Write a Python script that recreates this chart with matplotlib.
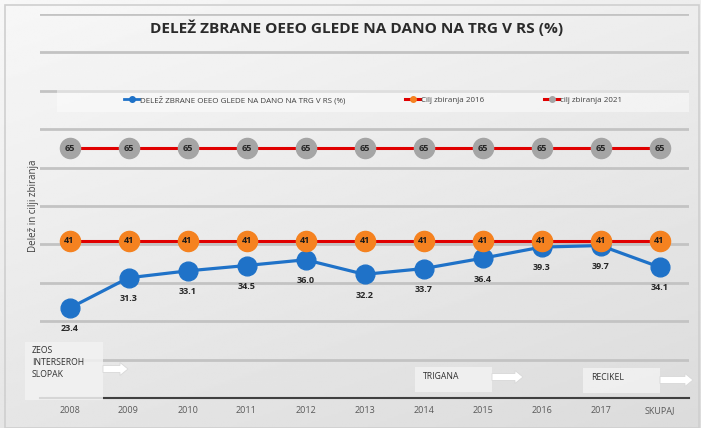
import matplotlib
matplotlib.use("Agg")
import matplotlib.pyplot as plt
import numpy as np
from matplotlib.patches import Rectangle, FancyArrow
from matplotlib.lines import Line2D

categories = ["2008", "2009", "2010", "2011", "2012", "2013", "2014", "2015", "2016", "2017", "SKUPAJ"]
delez = [23.4, 31.3, 33.1, 34.5, 36.0, 32.2, 33.7, 36.4, 39.3, 39.7, 34.1]
cilj_2016 = [41] * 11
cilj_2021 = [65] * 11

title = "DELEŽ ZBRANE OEEO GLEDE NA DANO NA TRG V RS (%)"
series_names = ["DELEŽ ZBRANE OEEO GLEDE NA DANO NA TRG V RS (%)", "Cilj zbiranja 2016", "cilj zbiranja 2021"]
ylabel = "Delež in cilji zbiranja"
box_texts = ["ZEOS\nINTERSEROH\nSLOPAK", "TRIGANA", "RECIKEL"]

W, H = 701, 428
fig = plt.figure(figsize=(W / 100, H / 100), dpi=100)
plt.rcParams['font.family'] = ['Open Sans', 'DejaVu Sans']

# background gradient
bg = fig.add_axes([0, 0, 1, 1], zorder=-10)
yy, xx = np.mgrid[0:1:200j, 0:1:300j]
grad = 0.97 - 0.07 * (1 - yy) - 0.04 * xx
bg.imshow(grad, cmap='gray', vmin=0, vmax=1, aspect='auto', origin='lower', extent=[0, 1, 0, 1])
bg.axis('off')
bg.add_patch(Rectangle((5 / W, 0), (W - 7) / W, (H - 5) / H, transform=bg.transAxes,
                       fill=False, edgecolor='#cfcfcf', lw=1.2))


def px2fig(x, y):
    return x / W, 1 - y / H


left, right = 40, 689
top, bottom = 14, 398
ax = fig.add_axes([left / W, 1 - bottom / H, (right - left) / W, (bottom - top) / H])
ax.set_facecolor('none')
x = np.arange(len(categories))
ax.set_xlim(-0.5, len(categories) - 0.5)
ax.set_ylim(0, 100)
ax.set_yticks(np.arange(0, 101, 10))
ax.yaxis.grid(True, color='#c3c3c3', lw=2)
ax.tick_params(axis='y', length=0, labelleft=False)
for s in ['left', 'right', 'top']:
    ax.spines[s].set_visible(False)
ax.spines['bottom'].set_color('#404040')
ax.spines['bottom'].set_linewidth(1.5)
ax.set_axisbelow(True)
ax.set_xticks(x)
ax.set_xticklabels(categories, fontsize=6.5, color='#595959')
ax.tick_params(axis='x', length=0, pad=6)
ax.set_ylabel(ylabel, fontsize=7, color='#404040', labelpad=1)

ax.plot(x, delez, color='#1f72c8', lw=2.3, marker='o', ms=13.5, zorder=3)
ax.plot(x, cilj_2021, color='#e00000', lw=2.2, zorder=4)
ax.plot(x, cilj_2021, ls='none', marker='o', ms=14.5, color='#a5a5a5', zorder=5)
ax.plot(x, cilj_2016, color='#e00000', lw=2.2, zorder=4)
ax.plot(x, cilj_2016, ls='none', marker='o', ms=14.5, color='#f58220', zorder=5)

for xi, v in zip(x, cilj_2021):
    ax.text(xi, v, f"{v}", ha='center', va='center', fontsize=6.5, fontweight='bold', color='#262626', zorder=6)
for xi, v in zip(x, cilj_2016):
    ax.text(xi, v, f"{v}", ha='center', va='center', fontsize=6.5, fontweight='bold', color='#1a1a1a', zorder=6)
for xi, v in zip(x, delez):
    ax.annotate(f"{v:.1f}", (xi, v), xytext=(0, -15), textcoords='offset points',
                ha='center', va='center', fontsize=6.5, fontweight='bold', color='#262626', zorder=6)

# title
tx, ty = px2fig(357, 28)
fig.text(tx, ty, title, ha='center', va='center', fontsize=11.1, fontweight='bold', color='#2b2b2b')

# legend band
band_x0, band_y0 = px2fig(57, 112)
fig.patches.append(Rectangle((band_x0, band_y0), (689 - 57) / W, 22 / H, transform=fig.transFigure,
                             facecolor='white', alpha=0.45, edgecolor='none', zorder=1))
handles = [Line2D([], [], color='#1f72c8', lw=2, marker='o', ms=4),
           Line2D([], [], color='#e00000', lw=2.2, marker='o', ms=4, mfc='#f58220', mec='#f58220'),
           Line2D([], [], color='#e00000', lw=2.2, marker='o', ms=4, mfc='#a5a5a5', mec='#a5a5a5')]
leg = fig.legend(handles, series_names, loc='center', ncol=3, frameon=False,
                 bbox_to_anchor=(px2fig(373, 100)), fontsize=5.8, handlelength=1.8,
                 handletextpad=0.1, columnspacing=7.5, labelcolor='#404040')

# company boxes and arrows
boxes = [(25, 342, 78, 58), (415, 367, 77, 25), (583, 368, 77, 25)]
text_pos = [(32, 346), (423, 372), (591, 373)]
arrows = [(103, 369, 25), (492, 377, 31), (660, 380, 33)]
for (bx, by, bw, bh), (tx_, ty_), t in zip(boxes, text_pos, box_texts):
    fx, fy = px2fig(bx, by + bh)
    fig.patches.append(Rectangle((fx, fy), bw / W, bh / H, transform=fig.transFigure,
                                 facecolor='#f2f2f2', alpha=0.85, edgecolor='none', zorder=2))
    px, py = px2fig(tx_, ty_)
    fig.text(px, py, t, ha='left', va='top', fontsize=6.2, color='#303030', linespacing=1.4, zorder=3)
for ax0, ay0, aw in arrows:
    fx, fy = px2fig(ax0, ay0)
    fig.patches.append(FancyArrow(fx, fy, aw / W, 0, width=7 / H, head_width=13 / H, head_length=8 / W,
                                  length_includes_head=True, transform=fig.transFigure,
                                  facecolor='white', edgecolor='#d8d8d8', lw=0.6, zorder=3))

fig.savefig("out.png", dpi=100)
